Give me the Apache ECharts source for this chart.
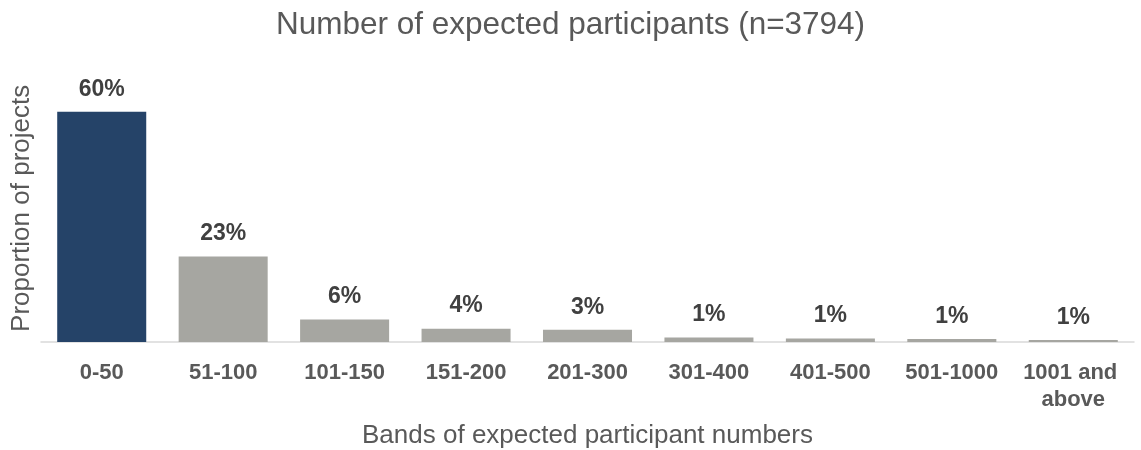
<!DOCTYPE html>
<html>
<head>
<meta charset="utf-8">
<script src="https://cdn.jsdelivr.net/npm/echarts@6/dist/echarts.min.js"></script>
<style>
html,body{margin:0;padding:0;background:#fff;}
#chart{width:1141px;height:450px;}
</style>
</head>
<body>
<div id="chart"></div>
<script>
var titleText = 'Number of expected participants (n=3794)';
var categories = ['0-50','51-100','101-150','151-200','201-300','301-400','401-500','501-1000','1001 and above'];
var values = [60.3, 22.4, 5.9, 3.5, 3.2, 1.2, 0.9, 0.8, 0.5];
var valueLabels = ['60%','23%','6%','4%','3%','1%','1%','1%','1%'];
var highlightIndex = 0;
var xAxisName = 'Bands of expected participant numbers';
var yAxisName = 'Proportion of projects';

var FONT = '"Liberation Sans", Arial, sans-serif';
var chart = echarts.init(document.getElementById('chart'));
chart.setOption({
  animation: false,
  title: {
    text: titleText,
    left: 'center',
    top: 4,
    textStyle: {fontFamily: FONT, fontSize: 31.5, fontWeight: 'normal', color: '#595959'}
  },
  grid: {left: 41, right: 7, top: 74.7, bottom: 108, containLabel: false, outerBoundsMode: 'none'},
  xAxis: {
    type: 'category',
    data: categories,
    name: xAxisName,
    nameLocation: 'middle',
    nameGap: 81,
    nameTextStyle: {fontFamily: FONT, fontSize: 26, color: '#595959'},
    axisLine: {show: true, lineStyle: {color: '#D9D9D9', width: 1.5}},
    axisTick: {show: false},
    axisLabel: {
      fontFamily: FONT, fontSize: 22, fontWeight: 'bold', color: '#595959',
      margin: 17, interval: 0, width: 118, overflow: 'break', lineHeight: 27
    }
  },
  yAxis: {
    type: 'value',
    min: 0,
    max: 70,
    name: yAxisName,
    nameLocation: 'middle',
    nameGap: 6,
    nameTextStyle: {fontFamily: FONT, fontSize: 26, color: '#595959'},
    axisLine: {show: false},
    axisTick: {show: false},
    axisLabel: {show: false},
    splitLine: {show: false}
  },
  series: [{
    type: 'bar',
    data: values.map(function (v, i) {
      return {value: v, itemStyle: {color: i === highlightIndex ? '#254368' : '#A6A6A1'}};
    }),
    barCategoryGap: '26.7%',
    label: {
      show: true,
      position: 'top',
      distance: 11,
      formatter: function (p) { return valueLabels[p.dataIndex]; },
      fontFamily: FONT, fontSize: 23, fontWeight: 'bold', color: '#404040'
    }
  }]
});
</script>
</body>
</html>
